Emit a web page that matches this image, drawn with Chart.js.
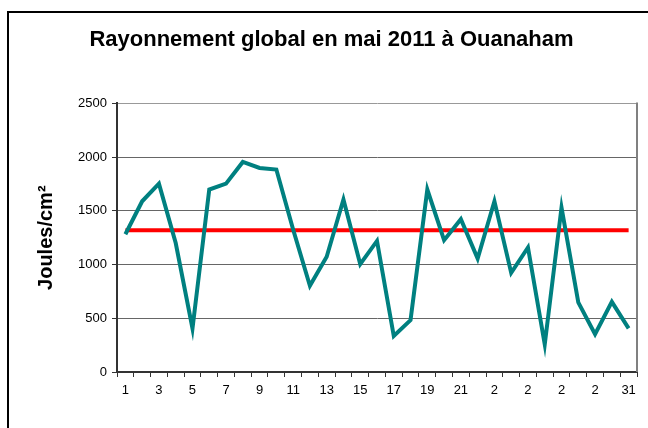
<!DOCTYPE html>
<html>
<head>
<meta charset="utf-8">
<script src="https://cdn.jsdelivr.net/npm/chart.js@4"></script>
<style>
    html, body { margin: 0; padding: 0; background: #fff; overflow: hidden; }
    #frame {
        position: absolute; left: 7px; top: 11px;
        width: 700px; height: 500px;
        border: 2px solid #000;
    }
    #wrap { position: absolute; left: 0; top: 0; width: 648px; height: 428px; }
</style>
</head>
<body>
<div id="frame"></div>
<div id="wrap"><canvas id="rayChart" width="648" height="428"></canvas></div>
<script>
// jours du mois de mai
const jours = [];
for (let d = 1; d <= 31; d++) jours.push(String(d));

// rayonnement global journalier (J/cm²)
const rayonnement = [1282, 1589, 1753, 1200, 406, 1698, 1753, 1955, 1899, 1884,
    1326, 802, 1072, 1605, 1004, 1220, 335, 483, 1698, 1227,
    1422, 1056, 1589, 923, 1159, 257, 1530, 648, 353, 653, 406];

// ligne de référence rouge
const reference = new Array(31).fill(1320);

// étiquettes affichées sous l'axe (une sur deux, tronquées comme sur l'original)
const xTickLabels = ['1', '3', '5', '7', '9', '11', '13', '15', '17', '19', '21', '2', '2', '2', '2', '31'];

const yTicks = [0, 500, 1000, 1500, 2000, 2500];

const font = "'Liberation Sans', Arial, sans-serif";

// bordure droite de la zone de tracé
const plotBorder = {
    id: 'plotBorder',
    afterDraw(chart) {
        const { ctx, chartArea } = chart;
        ctx.save();
        ctx.strokeStyle = '#808080';
        ctx.lineWidth = 2;
        ctx.beginPath();
        ctx.moveTo(chartArea.right, chartArea.top - 1);
        ctx.lineTo(chartArea.right, chartArea.bottom);
        ctx.stroke();
        ctx.restore();
    }
};

const ctx = document.getElementById('rayChart').getContext('2d');
new Chart(ctx, {
    type: 'line',
    data: {
        labels: jours,
        datasets: [{
            label: 'Rayonnement',
            data: rayonnement,
            borderColor: '#008080',
            borderWidth: 4,
            pointRadius: 0,
            tension: 0,
            order: 1
        }, {
            label: 'Référence',
            data: reference,
            borderColor: '#ff0000',
            borderWidth: 4,
            pointRadius: 0,
            tension: 0,
            order: 2
        }]
    },
    options: {
        responsive: false,
        animation: false,
        layout: { padding: { left: 26, right: 11, top: 0, bottom: 0 } },
        plugins: {
            legend: { display: false },
            tooltip: { enabled: false },
            title: {
                display: true,
                text: 'Rayonnement global en mai 2011 à Ouanaham',
                color: '#000',
                font: { family: font, size: 22, weight: 'bold' },
                padding: { top: 27, bottom: 50 },
                align: 'center'
            }
        },
        scales: {
            x: {
                offset: true,
                grid: {
                    offset: true,
                    drawOnChartArea: false,
                    drawTicks: true,
                    tickLength: 5,
                    color: '#333',
                    lineWidth: 1
                },
                border: { color: '#333', width: 2 },
                ticks: {
                    autoSkip: false,
                    maxRotation: 0,
                    color: '#000',
                    padding: 6,
                    font: { family: font, size: 13 },
                    callback: (val, i) => (i % 2 === 0 ? xTickLabels[i / 2] : '')
                },
                afterFit: (scale) => { scale.height = 56; }
            },
            y: {
                min: 0,
                max: 2500,
                afterBuildTicks: (scale) => { scale.ticks = yTicks.map(v => ({ value: v })); },
                grid: {
                    color: (c) => (c.tick && c.tick.value === 2500 ? '#999' : '#666'),
                    lineWidth: 1,
                    tickLength: 5,
                    tickColor: '#333'
                },
                border: { color: '#333', width: 2 },
                ticks: {
                    color: '#000',
                    padding: 5,
                    font: { family: font, size: 13 },
                    callback: (v) => String(v)
                },
                title: {
                    display: true,
                    text: 'Joules/cm²',
                    color: '#000',
                    font: { family: font, size: 20, weight: 'bold' },
                    padding: { top: 8, bottom: 0 }
                },
                afterFit: (scale) => { scale.width = 91; }
            }
        }
    },
    plugins: [plotBorder]
});
</script>
</body>
</html>
